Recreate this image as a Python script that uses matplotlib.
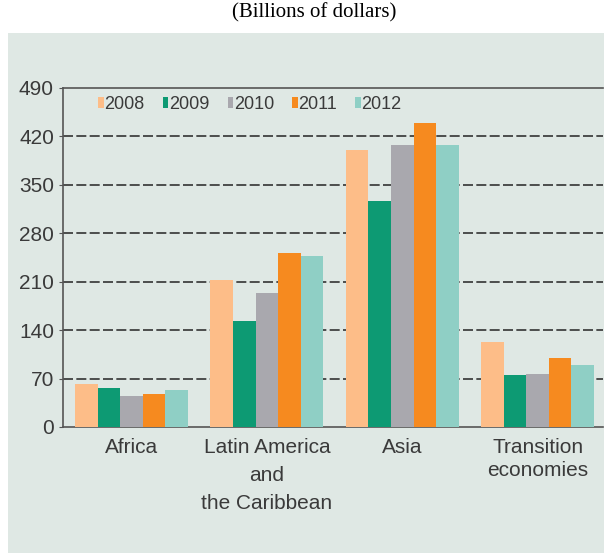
import matplotlib.pyplot as plt
from matplotlib.patches import Rectangle
from matplotlib import font_manager
import numpy as np

regions = ['Africa', 'Latin America\nand\nthe Caribbean', 'Asia', 'Transition\neconomies']
years = ['2008', '2009', '2010', '2011', '2012']
v2008 = [62, 212, 400, 123]
v2009 = [57, 153, 327, 75]
v2010 = [45, 194, 408, 77]
v2011 = [47, 251, 439, 100]
v2012 = [53, 247, 408, 90]
colors = ['#fdbd88', '#0d9a73', '#a9a8ae', '#f68a1f', '#8fcfc5']

# pick a narrow sans if there is one
names = {f.name for f in font_manager.fontManager.ttflist}
narrow = 'Liberation Sans Narrow' if 'Liberation Sans Narrow' in names else 'Liberation Sans'
plt.rcParams['font.family'] = [narrow, 'DejaVu Sans']

fig = plt.figure(figsize=(6.04, 5.53), dpi=100)
fig.patch.set_facecolor('white')
bg = Rectangle((8 / 604, 0), 596 / 604, 520 / 553, transform=fig.transFigure,
               facecolor='#dfe8e4', edgecolor='none', zorder=-5)
fig.patches.append(bg)
fig.text(0.52, 1 - 3 / 553, '(Billions of dollars)', ha='center', va='top',
         fontsize=15, family='Liberation Serif', color='black')

ax = fig.add_axes([63 / 604, 126 / 553, 540 / 604, 339 / 553])
ax.set_facecolor('none')

x = np.arange(len(regions))
w = 1 / 6
for i, (vals, yr) in enumerate(zip([v2008, v2009, v2010, v2011, v2012], years)):
    ax.bar(x + (i - 2) * w, vals, width=w, color=colors[i], label=yr, zorder=3)

ax.set_ylim(0, 490)
ax.set_xlim(-0.506, 3.483)
ax.set_yticks(range(0, 491, 70))
ax.set_xticks(x)
ax.set_xticklabels(regions, fontsize=15, color='#3a3a3a')
ax.tick_params(axis='y', labelsize=15, labelcolor='#3a3a3a', length=3, color='#555555')
ax.tick_params(axis='x', length=0, pad=8)
for t, ls in zip(ax.get_xticklabels(), [1.6, 1.6, 1.6, 1.25]):
    t.set_linespacing(ls)

for yv in range(70, 421, 70):
    ax.axhline(yv, color='#333333', lw=1.2, ls=(0, (6, 2)), zorder=1)

for s in ['left', 'bottom', 'top']:
    ax.spines[s].set_color('#555555')
    ax.spines[s].set_linewidth(1.2)
ax.spines['right'].set_visible(False)

leg = ax.legend(loc='upper left', bbox_to_anchor=(0.035, 1.025), ncol=5, frameon=False,
                fontsize=13, handlelength=0.3, handleheight=0.6, handletextpad=0.05,
                columnspacing=1.0, labelcolor='#3a3a3a')

fig.savefig('out.png', dpi=100)
